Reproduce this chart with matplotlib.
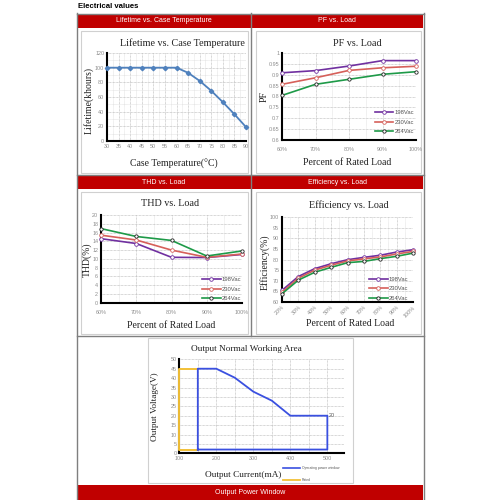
import matplotlib
matplotlib.use("Agg")
import matplotlib.pyplot as plt
from matplotlib.patches import Rectangle
from matplotlib.lines import Line2D
from matplotlib.ticker import MultipleLocator

# ---------------- data ----------------
temp_c = [30, 35, 40, 45, 50, 55, 60, 65, 70, 75, 80, 85, 90]
lifetime_kh = [100, 100, 100, 100, 100, 100, 100, 93, 82, 68.5, 53, 36.5, 19]

pf_load = ["60%", "70%", "80%", "90%", "100%"]
pf_198 = [0.909, 0.919, 0.940, 0.965, 0.965]
pf_230 = [0.856, 0.886, 0.920, 0.932, 0.939]
pf_264 = [0.805, 0.856, 0.879, 0.902, 0.914]

thd_load = ["60%", "70%", "80%", "90%", "100%"]
thd_198 = [14.6, 13.5, 10.35, 10.3, 11.0]
thd_230 = [15.4, 14.3, 12.0, 10.35, 11.1]
thd_264 = [16.9, 15.1, 14.2, 10.65, 11.8]

eff_load = ["20%", "30%", "40%", "50%", "60%", "70%", "80%", "90%", "100%"]
eff_198 = [65.5, 72.0, 75.7, 78.0, 79.9, 81.0, 82.0, 83.5, 84.6]
eff_230 = [64.6, 71.2, 75.0, 77.3, 79.3, 80.3, 81.2, 82.6, 83.8]
eff_264 = [63.9, 70.3, 74.0, 76.3, 78.5, 79.1, 80.4, 81.5, 83.0]

win_current = [150, 150, 200, 250, 300, 350, 400, 500, 500, 150]
win_voltage = [2, 45, 45, 40.2, 32.8, 28, 20, 20, 2, 2]
rated_current = [150, 100, 100, 150]
rated_voltage = [45, 45, 2, 2]

series_names = ["198Vac", "230Vac", "264Vac"]
headers = ["Lifetime vs. Case Temperature", "PF vs. Load", "THD vs. Load",
           "Efficiency vs. Load", "Output Power Window"]

# ---------------- helpers ----------------
W = H = 500
fig = plt.figure(figsize=(5, 5), dpi=100)
fig.patch.set_facecolor("white")

def fx(x):
    return x / W

def fy(y):
    return 1 - y / H

def rect(x0, y0, x1, y1, **kw):
    fig.patches.append(Rectangle((fx(x0), fy(y1)), (x1 - x0) / W, (y1 - y0) / H,
                                 transform=fig.transFigure, **kw))

def hline(x0, x1, y, **kw):
    fig.lines.append(Line2D([fx(x0), fx(x1)], [fy(y), fy(y)], transform=fig.transFigure, **kw))

def vline(x, y0, y1, **kw):
    fig.lines.append(Line2D([fx(x), fx(x)], [fy(y0), fy(y1)], transform=fig.transFigure, **kw))

def axes_px(x0, y0, x1, y1):
    ax = fig.add_axes([fx(x0), fy(y1), (x1 - x0) / W, (y1 - y0) / H])
    ax.set_zorder(5)
    return ax

SERIF = "Liberation Serif"
SANS = "Liberation Sans"
RED = "#C00000"
FRAME = "#7f7f7f"
TICKC = "#8c8c8c"
C198 = "#7030A0"
C230 = "#D6605A"
C264 = "#1E9A48"

# ---------------- frame ----------------
fig.text(fx(78), fy(7), "Electrical values", fontsize=5.6, fontweight="bold",
         family=SANS, ha="left", va="center")

bars = [(77, 14, 250.5, 28), (251.5, 14, 423, 28), (77, 175, 250.5, 189),
        (251.5, 175, 423, 189), (77, 485, 423, 500)]
for (x0, y0, x1, y1), h in zip(bars, headers):
    rect(x0, y0, x1, y1, facecolor=RED, edgecolor="none", zorder=1)
    fig.text(fx((x0 + x1) / 2), fy((y0 + y1) / 2), h, color="white", fontsize=5,
             family=SANS, ha="center", va="center")

lw = 1.0
vline(76.5, 13, 500, color=FRAME, lw=lw)
vline(423.5, 13, 500, color=FRAME, lw=lw)
hline(76.5, 423.5, 13.5, color=FRAME, lw=lw)
vline(251, 13, 336, color=FRAME, lw=lw)
hline(76.5, 423.5, 336, color=FRAME, lw=lw)
hline(76.5, 423.5, 174.5, color=FRAME, lw=lw)

# inner image frames
for (x0, y0, x1, y1) in [(81, 31, 248, 173), (256, 31, 421, 173), (81, 192, 248, 334),
                         (256, 192, 421, 334), (148, 338, 353, 483)]:
    rect(x0, y0, x1, y1, facecolor="white", edgecolor="#d0d0d0", lw=0.8, zorder=-1)


def style_axes(ax):
    ax.set_facecolor("none")
    for s in ["top", "right"]:
        ax.spines[s].set_visible(False)
    for s in ["left", "bottom"]:
        ax.spines[s].set_color("black")
        ax.spines[s].set_linewidth(1.5)
    ax.tick_params(axis="both", which="both", length=0, labelsize=3.9, labelcolor=TICKC, pad=2)
    ax.grid(True, which="major", color="#b0b0b0", linestyle=(0, (1, 1)), lw=0.5)
    ax.grid(True, which="minor", color="#d0d0d0", linestyle=(0, (1, 1)), lw=0.4)
    ax.set_axisbelow(True)
    for lab in ax.get_xticklabels() + ax.get_yticklabels():
        lab.set_family(SANS)


def three_series(ax, x, a, b, c):
    ax.plot(x, a, color=C198, lw=1.2, marker="o", ms=2.6, mfc="white", mec=C198,
            mew=0.6, label=series_names[0], clip_on=False, zorder=3)
    ax.plot(x, b, color=C230, lw=1.2, marker="o", ms=2.6, mfc="white", mec=C230,
            mew=0.6, label=series_names[1], clip_on=False, zorder=3)
    ax.plot(x, c, color=C264, lw=1.2, marker="o", ms=2.4, mfc="white", mec="#222222",
            mew=0.6, label=series_names[2], clip_on=False, zorder=3)


def legend(ax, loc_xy):
    leg = ax.legend(loc="lower right", bbox_to_anchor=loc_xy, frameon=False,
                    fontsize=4.2, handlelength=3.2, handletextpad=0.2,
                    labelspacing=0.75, borderpad=0.1, borderaxespad=0.0)
    for t in leg.get_texts():
        t.set_color("#555555")
        t.set_family(SANS)

# ---------------- Lifetime ----------------
ax1 = axes_px(107, 53, 246, 141)
ax1.plot(temp_c, lifetime_kh, color="#4F81BD", lw=1.3, marker="D", ms=2.2,
         mfc="#4F81BD", mec="#4F81BD", clip_on=False, zorder=3)
ax1.set_xlim(30, 90)
ax1.set_ylim(0, 120)
ax1.set_xticks(temp_c)
ax1.set_yticks(range(0, 121, 20))
ax1.xaxis.set_minor_locator(MultipleLocator(2.5))
ax1.yaxis.set_minor_locator(MultipleLocator(10))
style_axes(ax1)
fig.text(fx(182), fy(43), "Lifetime vs. Case Temperature", family=SERIF, fontsize=7.3,
         ha="center", va="center", color="#222222")
fig.text(fx(89), fy(100), "Lifetime(khours)", family=SERIF, fontsize=7, rotation=90,
         ha="center", va="center", color="#222222")
fig.text(fx(174), fy(164), "Case Temperature(\u00b0C)", family=SERIF, fontsize=7,
         ha="center", va="center", color="#222222")

# ---------------- PF ----------------
ax2 = axes_px(282, 53, 416, 140)
xi = list(range(len(pf_load)))
three_series(ax2, xi, pf_198, pf_230, pf_264)
ax2.set_xlim(0, len(pf_load) - 1)
ax2.set_ylim(0.6, 1.0)
ax2.set_xticks(xi)
ax2.set_xticklabels(pf_load)
ax2.set_yticks([0.6, 0.65, 0.7, 0.75, 0.8, 0.85, 0.9, 0.95, 1.0])
ax2.set_yticklabels(["0.6", "0.65", "0.7", "0.75", "0.8", "0.85", "0.9", "0.95", "1"])
ax2.xaxis.set_minor_locator(MultipleLocator(0.5))
style_axes(ax2)
ax2.tick_params(axis="x", pad=5)
legend(ax2, (0.99, 0.06))
fig.text(fx(357), fy(43), "PF vs. Load", family=SERIF, fontsize=7.3,
         ha="center", va="center", color="#222222")
fig.text(fx(264), fy(97), "PF", family=SERIF, fontsize=7, rotation=90,
         ha="center", va="center", color="#222222")
fig.text(fx(347), fy(162), "Percent of Rated Load", family=SERIF, fontsize=7,
         ha="center", va="center", color="#222222")

# ---------------- THD ----------------
ax3 = axes_px(101, 215, 242, 302.7)
xi = list(range(len(thd_load)))
three_series(ax3, xi, thd_198, thd_230, thd_264)
ax3.set_xlim(0, len(thd_load) - 1)
ax3.set_ylim(0, 20)
ax3.set_xticks(xi)
ax3.set_xticklabels(thd_load)
ax3.set_yticks(range(0, 21, 2))
ax3.xaxis.set_minor_locator(MultipleLocator(0.5))
style_axes(ax3)
ax3.tick_params(axis="x", pad=5)
legend(ax3, (1.0, 0.01))
fig.text(fx(170), fy(204), "THD vs. Load", family=SERIF, fontsize=7.3,
         ha="center", va="center", color="#222222")
fig.text(fx(87), fy(260), "THD(%)", family=SERIF, fontsize=7, rotation=90,
         ha="center", va="center", color="#222222")
fig.text(fx(171), fy(326), "Percent of Rated Load", family=SERIF, fontsize=7,
         ha="center", va="center", color="#222222")

# ---------------- Efficiency ----------------
ax4 = axes_px(282, 217, 413, 302)
xi = list(range(len(eff_load)))
three_series(ax4, xi, eff_198, eff_230, eff_264)
ax4.set_xlim(0, len(eff_load) - 1)
ax4.set_ylim(60, 100)
ax4.set_xticks(xi)
ax4.set_xticklabels(eff_load, rotation=45, ha="right", rotation_mode="anchor")
ax4.set_yticks(range(60, 101, 5))
ax4.xaxis.set_minor_locator(MultipleLocator(0.5))
style_axes(ax4)
legend(ax4, (0.97, 0.01))
fig.text(fx(349), fy(205), "Efficiency vs. Load", family=SERIF, fontsize=7.3,
         ha="center", va="center", color="#222222")
fig.text(fx(265), fy(262), "Efficiency(%)", family=SERIF, fontsize=7, rotation=90,
         ha="center", va="center", color="#222222")
fig.text(fx(350), fy(323), "Percent of Rated Load", family=SERIF, fontsize=7,
         ha="center", va="center", color="#222222")

# ---------------- Output window ----------------
ax5 = axes_px(179.3, 359.3, 344, 453.3)
ax5.plot(rated_current, rated_voltage, color="#F2C037", lw=1.4, label="Rated",
         clip_on=False, zorder=3)
ax5.plot(win_current, win_voltage, color="#3A50E0", lw=1.3,
         label="Operating power window", clip_on=False, zorder=4)
ax5.set_xlim(100, 545)
ax5.set_ylim(0, 50)
ax5.set_xticks([100, 200, 300, 400, 500])
ax5.set_yticks(range(0, 51, 5))
ax5.xaxis.set_minor_locator(MultipleLocator(50))
style_axes(ax5)
ax5.grid(True, which="minor", color="#b0b0b0", linestyle=(0, (1, 1)), lw=0.5)
ax5.text(504, 20, "20", fontsize=3.9, color="#555555", ha="left", va="center",
         family=SANS)
fig.text(fx(246), fy(349), "Output Normal Working Area", family=SERIF, fontsize=6.7,
         ha="center", va="center", color="#222222")
fig.text(fx(155), fy(407), "Output Voltage(V)", family=SERIF, fontsize=6.7, rotation=90,
         ha="center", va="center", color="#222222")
fig.text(fx(243), fy(475), "Output Current(mA)", family=SERIF, fontsize=6.7,
         ha="center", va="center", color="#222222")
# legend for window chart (below plot, right)
hline(283, 300, 468, color="#3A50E0", lw=1.2)
fig.text(fx(302), fy(468), "Operating power window", fontsize=2.4, color="#555555",
         family=SANS, ha="left", va="center")
hline(283, 300, 480, color="#F2C037", lw=1.3)
fig.text(fx(302), fy(480), "Rated", fontsize=2.4, color="#555555",
         family=SANS, ha="left", va="center")

fig.savefig("out.png", dpi=100)
